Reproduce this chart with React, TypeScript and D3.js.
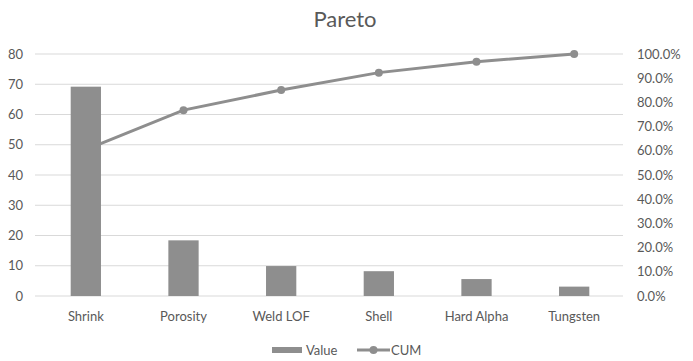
import React, { useEffect, useRef } from 'react'
import * as d3 from 'd3'

const CATEGORIES = ['Shrink', 'Porosity', 'Weld LOF', 'Shell', 'Hard Alpha', 'Tungsten']
const VALUES = [69.2, 18.4, 9.9, 8.2, 5.6, 3.1]
const CUM = [60.5, 76.8, 85.1, 92.3, 96.8, 100]
const LEFT_TICKS = [0, 10, 20, 30, 40, 50, 60, 70, 80]
const RIGHT_TICKS = [0, 10, 20, 30, 40, 50, 60, 70, 80, 90, 100]

const GRAY = '#8e8e8e'
const TEXT = '#595959'
const FONT = 'Lato, "Open Sans", sans-serif'

export default function App() {
  const svgRef = useRef<SVGSVGElement | null>(null)

  useEffect(() => {
    document.body.style.margin = '0'
    const svg = d3.select(svgRef.current)
    svg.selectAll('*').remove()

    const gridLeft = 35
    const gridRight = 623
    const top = 54
    const bottom = 296

    const x = d3.scaleBand().domain(CATEGORIES).range([37, 623]).paddingInner(0.69).paddingOuter(0.345)
    const y = d3.scaleLinear().domain([0, 80]).range([bottom, top])
    const y2 = d3.scaleLinear().domain([0, 100]).range([bottom, top])
    const cx = (d: string) => x(d)! + x.bandwidth() / 2

    // Title
    svg.append('text')
      .attr('x', 345).attr('y', 27)
      .attr('text-anchor', 'middle')
      .attr('font-family', FONT).attr('font-size', 22)
      .attr('fill', TEXT)
      .text('Pareto')

    // Gridlines
    svg.append('g').selectAll('line')
      .data(LEFT_TICKS)
      .join('line')
      .attr('x1', gridLeft).attr('x2', gridRight)
      .attr('y1', d => y(d)).attr('y2', d => y(d))
      .attr('stroke', '#d9d9d9').attr('stroke-width', 1)

    // Left axis labels
    svg.append('g').selectAll('text')
      .data(LEFT_TICKS)
      .join('text')
      .attr('x', 23).attr('y', d => y(d))
      .attr('dy', '0.35em')
      .attr('text-anchor', 'end')
      .attr('font-family', FONT).attr('font-size', 13)
      .attr('fill', TEXT)
      .text(d => d)

    // Right axis labels
    svg.append('g').selectAll('text')
      .data(RIGHT_TICKS)
      .join('text')
      .attr('x', 637).attr('y', d => y2(d))
      .attr('dy', '0.35em')
      .attr('font-family', FONT).attr('font-size', 13)
      .attr('fill', TEXT)
      .text(d => d3.format('.1f')(d) + '%')

    // Category labels
    svg.append('g').selectAll('text')
      .data(CATEGORIES)
      .join('text')
      .attr('x', d => cx(d)).attr('y', 321)
      .attr('text-anchor', 'middle')
      .attr('font-family', FONT).attr('font-size', 13)
      .attr('fill', TEXT)
      .text(d => d)

    // CUM line (sits under the bars)
    const line = d3.line<number>()
      .x((_, i) => cx(CATEGORIES[i]))
      .y(d => y2(d))
    svg.append('path')
      .datum(CUM)
      .attr('d', line)
      .attr('fill', 'none')
      .attr('stroke', GRAY).attr('stroke-width', 3)
    svg.append('g').selectAll('circle')
      .data(CUM)
      .join('circle')
      .attr('cx', (_, i) => cx(CATEGORIES[i]))
      .attr('cy', d => y2(d))
      .attr('r', 4)
      .attr('fill', GRAY)

    // Bars
    svg.append('g').selectAll('rect')
      .data(VALUES)
      .join('rect')
      .attr('x', (_, i) => x(CATEGORIES[i])!)
      .attr('y', d => y(d))
      .attr('width', x.bandwidth())
      .attr('height', d => bottom - y(d))
      .attr('fill', GRAY)

    // Legend
    const lg = svg.append('g')
    lg.append('rect').attr('x', 272).attr('y', 347).attr('width', 30).attr('height', 6).attr('fill', GRAY)
    lg.append('text').attr('x', 306).attr('y', 350).attr('dy', '0.35em')
      .attr('font-family', FONT).attr('font-size', 13).attr('fill', TEXT).text('Value')
    lg.append('line').attr('x1', 357).attr('x2', 390).attr('y1', 350).attr('y2', 350)
      .attr('stroke', GRAY).attr('stroke-width', 3)
    lg.append('circle').attr('cx', 373.5).attr('cy', 350).attr('r', 4).attr('fill', GRAY)
    lg.append('text').attr('x', 391).attr('y', 350).attr('dy', '0.35em')
      .attr('font-family', FONT).attr('font-size', 13).attr('fill', TEXT).text('CUM')
  }, [])

  return <svg ref={svgRef} width={693} height={361} style={{ display: 'block', background: '#fff' }} />
}
